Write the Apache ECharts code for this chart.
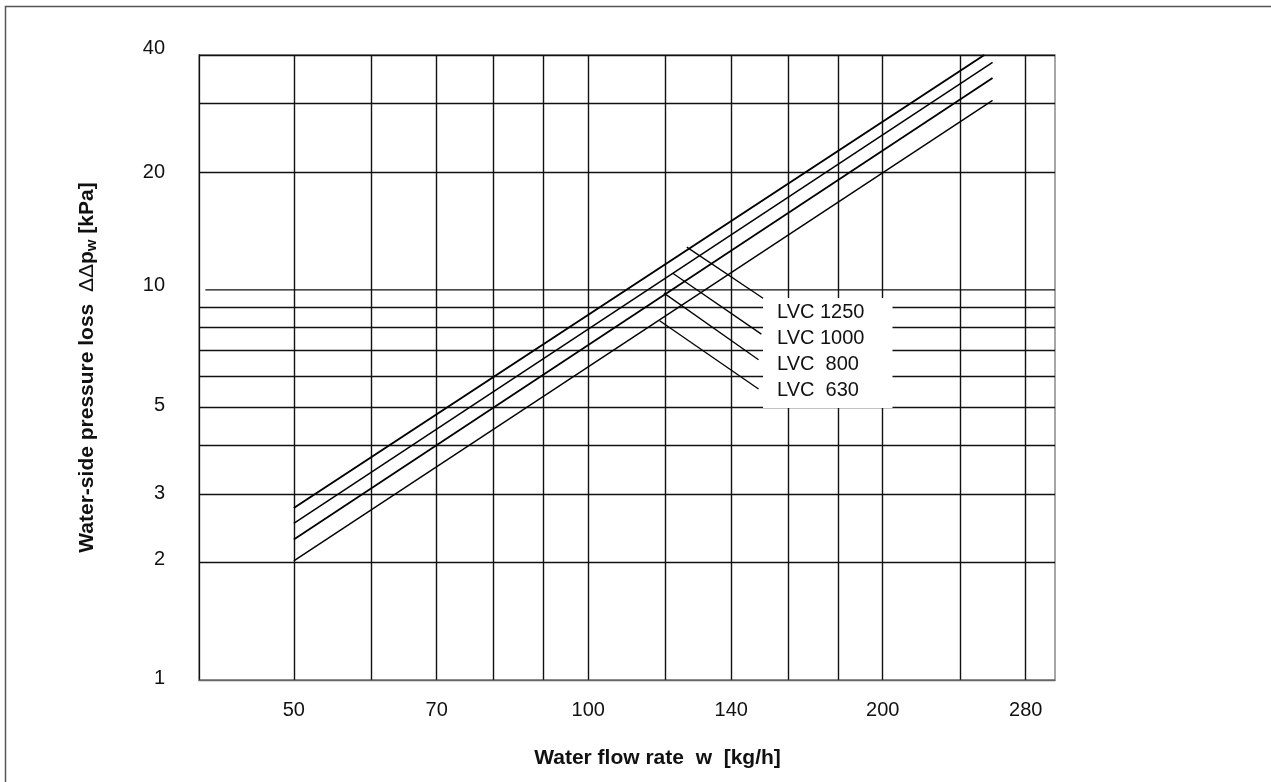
<!DOCTYPE html>
<html><head><meta charset="utf-8">
<script src="https://cdn.jsdelivr.net/npm/echarts@6/dist/echarts.min.js"></script>
<style>html,body{margin:0;padding:0;background:#fff}#c{width:1271px;height:782px}</style>
</head><body><div id="c"></div>
<script>
// ---- data ----
const seriesNames = ['LVC 1250', 'LVC 1000', 'LVC  800', 'LVC  630'];
const flowStart = [50, 50, 50, 50];
const flowEnd = [254, 259, 259, 259];
const lossStart = [2.76, 2.52, 2.29, 2.02];
const lossEnd = [40, 38.3, 34.9, 30.6];
// leader (callout) lines: [flow, loss] start on curve -> end at label box
const leaderFrom = [[126.1, 12.87], [122.0, 11.03], [119.5, 9.81], [118.3, 8.33]];
const leaderTo = [[151.7, 9.43], [150.3, 7.70], [149.3, 6.62], [149.3, 5.57]];
const xGridValues = [50, 60, 70, 80, 90, 100, 120, 140, 160, 180, 200, 240, 280];
const xLabelValues = [50, 70, 100, 140, 200, 280];
const yGridValues = [2, 3, 4, 5, 6, 7, 8, 9, 20, 30, 40];
const yLabelValues = [1, 2, 3, 5, 10, 20, 40];
const shortGridValue = 10;   // the 10 kPa gridline starts slightly inside the frame
const shortGridStart = 40.6;

const FONT = '"Liberation Sans", Arial, sans-serif';
const lineWidths = [2, 1.5, 1.8, 1.4];

const chart = echarts.init(document.getElementById('c'), null, {renderer: 'canvas'});

const mainSeries = seriesNames.map((n, i) => ({
  name: n, type: 'line',
  data: [[flowStart[i], lossStart[i]], [flowEnd[i], lossEnd[i]]],
  symbol: 'none', showSymbol: false,
  lineStyle: {color: '#000', width: lineWidths[i]},
  itemStyle: {color: '#000'},
  z: 3, silent: true
}));
const leaderSeries = leaderFrom.map((p, i) => ({
  name: 'leader-' + i, type: 'line',
  data: [p, leaderTo[i]],
  symbol: 'none', showSymbol: false,
  lineStyle: {color: '#000', width: 1.3},
  z: 3, silent: true
}));
const shortGrid = {
  name: 'grid-10', type: 'line',
  data: [[shortGridStart, shortGridValue], [300, shortGridValue]],
  symbol: 'none', showSymbol: false,
  lineStyle: {color: '#111', width: 1.4},
  z: 1, silent: true
};

// small upward nudges of y labels as in the reference
const yLabelLift = {1: 2, 2: 3, 5: 2, 10: 4, 40: 7};

chart.setOption({
  animation: false,
  backgroundColor: '#fff',
  textStyle: {fontFamily: FONT},
  graphic: [{
    type: 'rect', silent: true, z: -10,
    shape: {x: 5.5, y: 6.5, width: 1400, height: 900},
    style: {fill: 'none', stroke: '#555', lineWidth: 1.5}
  }],
  grid: {left: 199, right: 216, top: 55, bottom: 102, containLabel: false,
         show: true, borderColor: '#777', borderWidth: 1.3, outerBoundsMode: 'none'},
  legend: {
    data: seriesNames, orient: 'vertical', left: 763, top: 298,
    icon: 'rect', itemWidth: 0, itemHeight: 0, itemGap: 6,
    padding: [4, 28, 8, 9], backgroundColor: '#fff', selectedMode: false,
    textStyle: {fontSize: 20, color: '#111', fontFamily: FONT, lineHeight: 20}
  },
  xAxis: {
    type: 'log', logBase: 10, min: 40, max: 300,
    axisLine: {show: true, lineStyle: {color: '#666', width: 1.3}},
    axisTick: {show: false, customValues: xGridValues},
    axisLabel: {customValues: xLabelValues, formatter: v => String(Math.round(v)),
                fontSize: 20, color: '#111', margin: 20, fontFamily: FONT},
    splitLine: {show: true, lineStyle: {color: '#111', width: 1.4}},
    minorTick: {show: false}, minorSplitLine: {show: false},
    name: 'Water flow rate  w  [kg/h]', nameLocation: 'middle', nameGap: 68,
    nameTextStyle: {fontSize: 21, fontWeight: 'bold', color: '#111', fontFamily: FONT, padding: [0, 0, 0, 61]}
  },
  yAxis: {
    type: 'log', logBase: 10, min: 1, max: 40,
    axisLine: {show: true, lineStyle: {color: '#111', width: 1.3}},
    axisTick: {show: false, customValues: yGridValues},
    axisLabel: {
      customValues: yLabelValues,
      formatter: v => {
        const r = Math.round(v);
        const lift = yLabelLift[r] || 0;
        return lift ? '{l' + lift + '|' + r + '}' : String(r);
      },
      rich: {
        l2: {fontSize: 20, color: '#111', fontFamily: FONT, padding: [0, 0, 4, 0]},
        l3: {fontSize: 20, color: '#111', fontFamily: FONT, padding: [0, 0, 6, 0]},
        l4: {fontSize: 20, color: '#111', fontFamily: FONT, padding: [0, 0, 8, 0]},
        l7: {fontSize: 20, color: '#111', fontFamily: FONT, padding: [0, 0, 14, 0]}
      },
      fontSize: 20, color: '#111', margin: 34, fontFamily: FONT
    },
    splitLine: {show: true, lineStyle: {color: '#111', width: 1.4}},
    minorTick: {show: false}, minorSplitLine: {show: false},
    name: '{b|Water-side pressure loss  }{d|ΔΔ}{b|p}{s|w}{b| [kPa]}',
    nameLocation: 'middle', nameGap: 100,
    nameTextStyle: {
      color: '#111', fontFamily: FONT,
      rich: {
        b: {fontSize: 21, fontWeight: 'bold', color: '#111', fontFamily: FONT},
        d: {fontSize: 21, fontWeight: 'normal', color: '#111', fontFamily: FONT},
        s: {fontSize: 15, fontWeight: 'bold', color: '#111', fontFamily: FONT, padding: [9, 0, 0, 0]}
      }
    }
  },
  series: mainSeries.concat(leaderSeries, [shortGrid])
});
</script></body></html>
